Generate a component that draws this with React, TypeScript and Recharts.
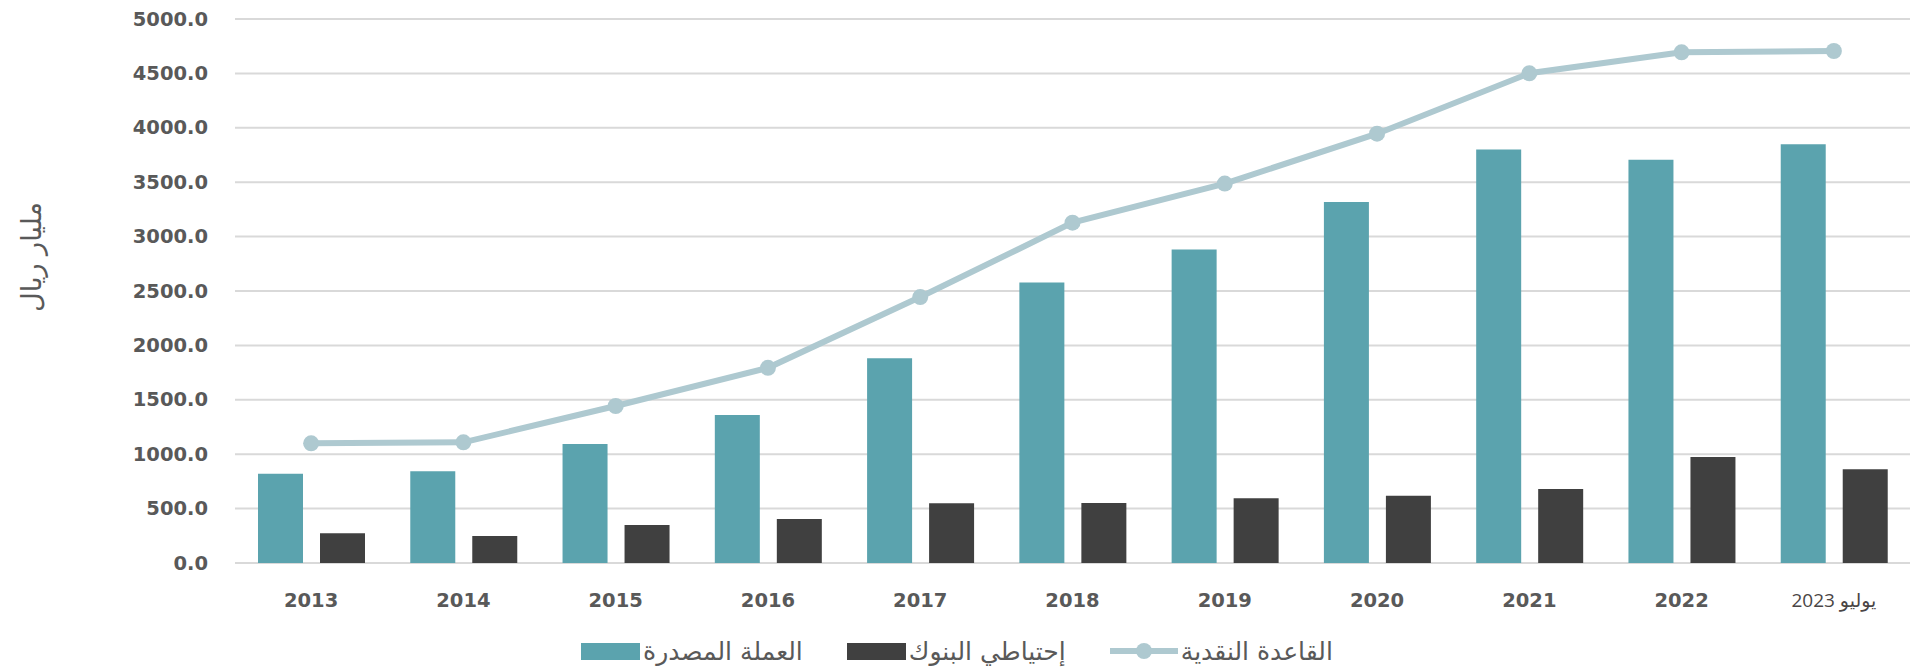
import React from 'react';
import { ComposedChart, Bar, Line, XAxis, YAxis, CartesianGrid, Legend, Label } from 'recharts';

const years = ['2013', '2014', '2015', '2016', '2017', '2018', '2019', '2020', '2021', '2022', 'يوليو 2023'];
const currencyIssued = [821, 843, 1094, 1360, 1883, 2578, 2881, 3318, 3800, 3707, 3848];
const bankReserves = [273, 248, 349, 404, 549, 552, 594, 617, 680, 974, 861];
const monetaryBase = [1100, 1109, 1443, 1794, 2444, 3128, 3487, 3946, 4501, 4694, 4706];
const yTicks = [0, 500, 1000, 1500, 2000, 2500, 3000, 3500, 4000, 4500, 5000];
const seriesNames = ['العملة المصدرة', 'إحتياطي البنوك', 'القاعدة النقدية'];
const yTitle = 'مليار ريال';

const TEAL = '#5ba3ae';
const DARK = '#404040';
const LINE = '#aec9d0';
const TEXT = '#595959';

const data = years.map((y, i) => ({
  year: y,
  issued: currencyIssued[i],
  reserves: bankReserves[i],
  base: monetaryBase[i],
}));

const XTick = (props: any) => {
  const { x, y, payload } = props;
  const isLast = payload.value === years[years.length - 1];
  return (
    <text
      x={x}
      y={y + 37}
      textAnchor="middle"
      dominantBaseline="central"
      direction={isLast ? 'rtl' : undefined}
      fill={isLast ? '#4a4545' : TEXT}
      fontSize={isLast ? 19 : 19.5}
      fontWeight={isLast ? 400 : 700}
      fontFamily={isLast ? "'Open Sans', 'DejaVu Sans', sans-serif" : "'DejaVu Sans', sans-serif"}
    >
      {payload.value}
    </text>
  );
};

const YTick = (props: any) => {
  const { x, y, payload } = props;
  return (
    <text
      x={x}
      y={y}
      textAnchor="end"
      dominantBaseline="central"
      fill={TEXT}
      fontSize={19.5}
      fontWeight={700}
      fontFamily="'DejaVu Sans', sans-serif"
    >
      {Number(payload.value).toFixed(1)}
    </text>
  );
};

const renderYTitle = (props: any) => {
  const vb = props.viewBox || { x: 0, y: 0, width: 0, height: 0 };
  const cx = vb.x + 31;
  const cy = vb.y + 238;
  return (
    <text
      x={cx}
      y={cy}
      transform={`rotate(-90 ${cx} ${cy})`}
      textAnchor="middle"
      dominantBaseline="central"
      fill={TEXT}
      fontSize={27}
      fontFamily="'DejaVu Sans', sans-serif"
    >
      {yTitle}
    </text>
  );
};

const renderLegend = () => {
  const icons = [
    <div key="i0" style={{ width: 59, height: 17, background: TEAL }} />,
    <div key="i1" style={{ width: 59, height: 17, background: DARK }} />,
    <svg key="i2" width={68} height={20}>
      <line x1={0} y1={10} x2={68} y2={10} stroke={LINE} strokeWidth={6} />
      <circle cx={34} cy={10} r={8} fill={LINE} />
    </svg>,
  ];
  return (
    <div
      style={{
        display: 'flex',
        justifyContent: 'center',
        alignItems: 'center',
        height: 34,
        gap: 44,
        fontFamily: "'DejaVu Sans', sans-serif",
        fontSize: 25,
        color: TEXT,
      }}
    >
      {seriesNames.map((n, i) => (
        <div key={n} style={{ display: 'flex', alignItems: 'center' }}>
          {icons[i]}
          <span style={{ marginLeft: 3, whiteSpace: 'nowrap' }}>{n}</span>
        </div>
      ))}
    </div>
  );
};

export default function App() {
  return (
    <div style={{ position: 'absolute', left: 0, top: 0, width: 1914, height: 668, background: '#ffffff' }}>
      <ComposedChart
        width={1914}
        height={668}
        data={data}
        margin={{ top: 19, right: 4, bottom: 0, left: 0 }}
        barCategoryGap={23}
        barGap={17}
      >
        <CartesianGrid vertical={false} stroke="#d9d9d9" strokeWidth={2} />
        <XAxis
          dataKey="year"
          axisLine={false}
          tickLine={false}
          tickSize={0}
          tickMargin={0}
          height={71}
          interval={0}
          tick={<XTick />}
        />
        <YAxis
          domain={[0, 5000]}
          ticks={yTicks}
          axisLine={false}
          tickLine={false}
          tickSize={0}
          tickMargin={27}
          width={235}
          interval={0}
          tick={<YTick />}
        >
          <Label content={renderYTitle} />
        </YAxis>
        <Legend
          verticalAlign="bottom"
          content={renderLegend}
          wrapperStyle={{ left: 0, width: 1914, bottom: 0 }}
        />
        <Bar dataKey="issued" name={seriesNames[0]} fill={TEAL} isAnimationActive={false} />
        <Bar dataKey="reserves" name={seriesNames[1]} fill={DARK} isAnimationActive={false} />
        <Line
          dataKey="base"
          name={seriesNames[2]}
          type="linear"
          stroke={LINE}
          strokeWidth={6}
          dot={{ r: 8, fill: LINE, stroke: LINE, strokeWidth: 0 }}
          activeDot={false}
          isAnimationActive={false}
        />
      </ComposedChart>
    </div>
  );
}
